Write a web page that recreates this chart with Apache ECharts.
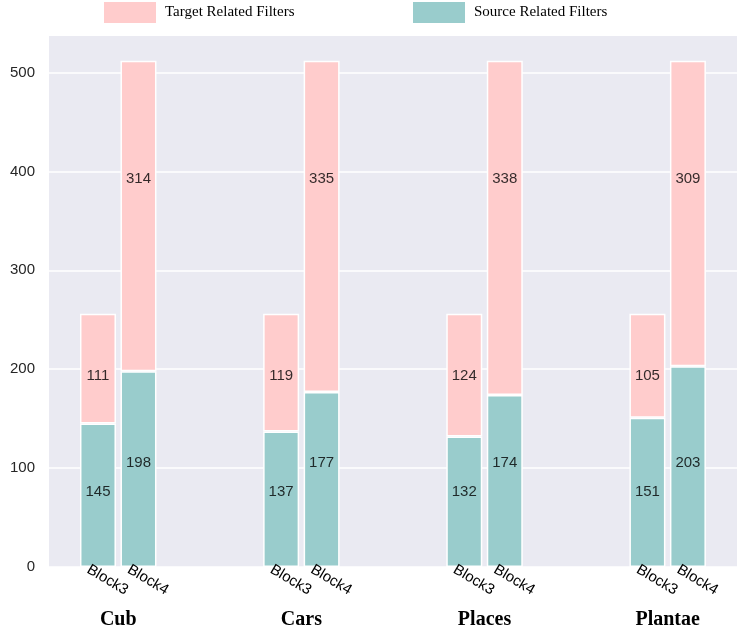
<!DOCTYPE html>
<html>
<head>
<meta charset="utf-8">
<script src="https://cdn.jsdelivr.net/npm/echarts@6/dist/echarts.min.js"></script>
<style>html,body{margin:0;padding:0;background:#fff}#c{width:747px;height:625px}</style>
</head>
<body>
<div id="c"></div>
<script>
// ---- data ----
const groups = ['Cub', 'Cars', 'Places', 'Plantae'];
const blockNames = ['Block3', 'Block4'];
const block3Source = [145, 137, 132, 151];
const block3Target = [111, 119, 124, 105];
const block4Source = [198, 177, 174, 203];
const block4Target = [314, 335, 338, 309];
const yTicks = [0, 100, 200, 300, 400, 500];
const seriesNames = ['Target Related Filters', 'Source Related Filters'];

// ---- style / layout ----
const PINK = '#FFCCCC', GREEN = '#99CCCC', BG = '#EAEAF2';
const Y_MAX = 537;
const BAR_W = 36, BAR_OFF = 20.25;
const LABEL_Y = { b3s: 75.5, b3t: 193, b4s: 105.5, b4t: 393 };
const SANS = 'Liberation Sans, Arial, sans-serif';
const SERIF = 'Liberation Serif, Times New Roman, serif';

const chart = echarts.init(document.getElementById('c'), null, { renderer: 'canvas' });

function barSeries(name, stack, data, color) {
  return {
    type: 'bar', name: name, stack: stack, data: data,
    xAxisIndex: 1, yAxisIndex: 1,
    barWidth: BAR_W, barGap: '12.5%',
    itemStyle: { color: color, borderColor: '#fff', borderWidth: 1.5 },
    emphasis: { disabled: true }, z: 2
  };
}
function blockLabelSeries(stack, name) {
  return {
    type: 'bar', name: name + '_lab', stack: stack,
    data: groups.map(() => 0),
    xAxisIndex: 1, yAxisIndex: 1,
    barWidth: BAR_W, barGap: '12.5%',
    itemStyle: { color: 'rgba(0,0,0,0)', borderWidth: 0 },
    label: {
      show: true, formatter: name, position: [BAR_W / 2 + 9.5, 13],
      align: 'center', verticalAlign: 'middle', rotate: -31,
      fontFamily: SANS, fontSize: 15, color: '#000'
    },
    emphasis: { disabled: true }, silent: true, z: 3
  };
}
function valueLabelSeries(values, yPos, dx) {
  return {
    type: 'scatter', xAxisIndex: 1, yAxisIndex: 1,
    symbolSize: 1, itemStyle: { color: 'rgba(0,0,0,0)' },
    data: values.map((v, i) => ({ value: [i, yPos], label: { formatter: String(v) } })),
    label: {
      show: true, position: 'inside', offset: [dx, 0],
      align: 'center', verticalAlign: 'middle',
      fontFamily: SANS, fontSize: 15, color: '#000'
    },
    emphasis: { disabled: true }, silent: true, z: 10
  };
}

const legendBase = {
  top: 0, padding: 0, itemWidth: 54, itemHeight: 23, icon: 'rect',
  selectedMode: false,
  textStyle: { fontFamily: SERIF, fontSize: 15, color: '#000', padding: [0, 0, 0, 3] }
};

chart.setOption({
  animation: false,
  backgroundColor: '#fff',
  legend: [
    Object.assign({}, legendBase, { left: 102, data: [seriesNames[0]] }),
    Object.assign({}, legendBase, { left: 411, data: [seriesNames[1]] })
  ],
  grid: [
    { left: 49, right: 10, top: 36, bottom: 58, show: true, backgroundColor: BG, borderWidth: 0,
      containLabel: false, outerBoundsMode: 'none' },
    { left: 26.65, width: 732.6, top: 36, bottom: 58, containLabel: false, outerBoundsMode: 'none' }
  ],
  xAxis: [
    { type: 'category', gridIndex: 0, data: groups, show: false },
    {
      type: 'category', gridIndex: 1, data: groups,
      axisLine: { show: false }, axisTick: { show: false }, splitLine: { show: false },
      axisLabel: { fontFamily: SERIF, fontWeight: 'bold', fontSize: 20, color: '#000', margin: 43 }
    }
  ],
  yAxis: [
    {
      type: 'value', gridIndex: 0, min: 0, max: Y_MAX, interval: 100,
      axisLine: { show: false }, axisTick: { show: false },
      axisLabel: {
        fontFamily: SANS, fontSize: 15, color: '#262626', margin: 14,
        showMaxLabel: false,
        formatter: v => (yTicks.indexOf(v) >= 0 ? String(v) : '')
      },
      splitLine: { show: true, showMaxLine: false, lineStyle: { color: '#fff', width: 1.5 } }
    },
    { type: 'value', gridIndex: 1, min: 0, max: Y_MAX, show: false, splitLine: { show: false } }
  ],
  series: [
    blockLabelSeries('b3', blockNames[0]),
    barSeries(seriesNames[1], 'b3', block3Source, GREEN),
    barSeries(seriesNames[0], 'b3', block3Target, PINK),
    blockLabelSeries('b4', blockNames[1]),
    barSeries(seriesNames[1], 'b4', block4Source, GREEN),
    barSeries(seriesNames[0], 'b4', block4Target, PINK),
    valueLabelSeries(block3Source, LABEL_Y.b3s, -BAR_OFF),
    valueLabelSeries(block3Target, LABEL_Y.b3t, -BAR_OFF),
    valueLabelSeries(block4Source, LABEL_Y.b4s, BAR_OFF),
    valueLabelSeries(block4Target, LABEL_Y.b4t, BAR_OFF)
  ]
});
</script>
</body>
</html>
